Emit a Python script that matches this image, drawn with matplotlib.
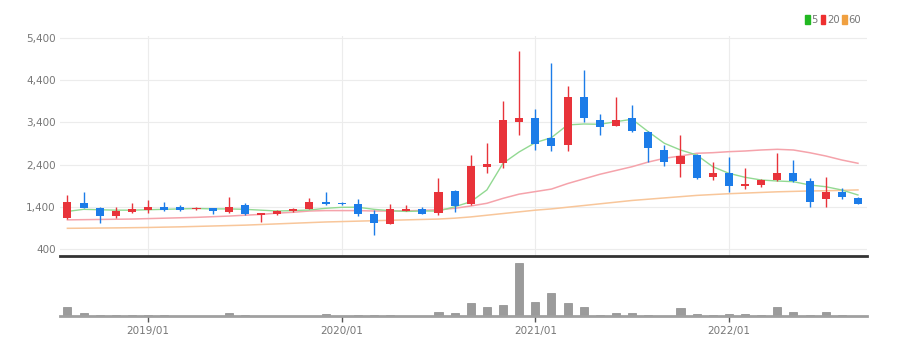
import matplotlib
matplotlib.use("Agg")
import matplotlib.pyplot as plt
from matplotlib import font_manager
from matplotlib.patches import Patch
import numpy as np
import pandas as pd

# monthly candles, 2018/08 .. 2022/09
months = pd.date_range("2018-08-01", periods=50, freq="MS")

opens = [1130, 1500, 1380, 1180, 1270, 1330, 1390, 1400, 1340, 1360,
         1270, 1440, 1200, 1220, 1290, 1350, 1520, 1500, 1460, 1230,
         1000, 1310, 1350, 1250, 1780, 1460, 2340, 2430, 3420, 3510,
         3020, 2860, 4010, 3460, 3320, 3500, 3180, 2750, 2410, 2630,
         2100, 2210, 1900, 1920, 2040, 2210, 2010, 1580, 1760, 1620]
closes = [1520, 1380, 1180, 1290, 1340, 1390, 1330, 1330, 1370, 1310,
          1400, 1230, 1250, 1300, 1350, 1520, 1470, 1460, 1230, 1010,
          1350, 1350, 1230, 1740, 1420, 2370, 2410, 3460, 3500, 2890,
          2840, 4010, 3500, 3300, 3460, 3200, 2790, 2450, 2600, 2080,
          2210, 1900, 1940, 2040, 2190, 2000, 1520, 1760, 1640, 1470]
highs = [1680, 1740, 1390, 1390, 1480, 1560, 1520, 1450, 1390, 1370,
         1630, 1480, 1260, 1330, 1380, 1600, 1740, 1520, 1580, 1320,
         1460, 1440, 1400, 2080, 1790, 2630, 2920, 3910, 5080, 3710,
         4800, 4260, 4640, 3590, 4000, 3810, 3200, 2860, 3100, 2650,
         2450, 2590, 2330, 2060, 2670, 2510, 2080, 2100, 1840, 1630]
lows = [1120, 1360, 1010, 1130, 1260, 1260, 1310, 1310, 1330, 1220,
        1260, 1200, 1030, 1200, 1280, 1340, 1440, 1450, 1190, 730,
        990, 1290, 1220, 1200, 1280, 1440, 2210, 2310, 3100, 2750,
        2720, 2720, 3420, 3100, 3310, 3180, 2450, 2370, 2110, 2060,
        2030, 1760, 1820, 1860, 2020, 1980, 1390, 1390, 1590, 1460]

ma5 = [1290, 1340, 1330, 1320, 1320, 1330, 1340, 1350, 1360, 1350,
       1350, 1340, 1320, 1300, 1310, 1324, 1364, 1388, 1390, 1340,
       1308, 1290, 1300, 1300, 1400, 1520, 1800, 2431, 2700, 2920,
       3038, 3340, 3362, 3355, 3417, 3474, 3180, 2905, 2746, 2628,
       2350, 2193, 2099, 2035, 2011, 1995, 1917, 1876, 1798, 1680]
ma20 = [1090, 1095, 1100, 1105, 1110, 1120, 1130, 1140, 1150, 1165,
        1180, 1200, 1220, 1250, 1270, 1300, 1310, 1310, 1310, 1300,
        1300, 1305, 1315, 1330, 1364, 1419, 1483, 1600, 1700, 1760,
        1820, 1950, 2060, 2170, 2260, 2350, 2460, 2549, 2604, 2668,
        2682, 2706, 2722, 2746, 2762, 2746, 2682, 2604, 2509, 2431]
ma60 = [890, 893, 897, 900, 905, 910, 918, 925, 935, 945,
        955, 965, 980, 995, 1010, 1025, 1040, 1050, 1060, 1070,
        1080, 1090, 1100, 1110, 1130, 1160, 1200, 1240, 1280, 1320,
        1350, 1390, 1430, 1470, 1510, 1550, 1580, 1610, 1640, 1670,
        1690, 1710, 1725, 1740, 1755, 1765, 1775, 1780, 1790, 1800]

volumes = [93, 30, 10, 10, 13, 13, 13, 0, 0, 0,
           27, 13, 0, 0, 0, 0, 23, 0, 13, 13,
           13, 0, 0, 43, 30, 127, 93, 107, 530, 143,
           227, 127, 87, 10, 27, 30, 10, 0, 77, 25,
           10, 25, 25, 10, 88, 45, 8, 45, 10, 0]

price_ticks = [400, 1400, 2400, 3400, 4400, 5400]

UP = "#e8333a"
DOWN = "#1c7ce8"
GRID = "#ececec"
LABEL = "#777777"

names = {f.name for f in font_manager.fontManager.ttflist}
font = "Liberation Sans Narrow" if "Liberation Sans Narrow" in names else "DejaVu Sans"
plt.rcParams["font.family"] = [font, "DejaVu Sans"]

x = np.arange(len(months))
o = np.array(opens)
c = np.array(closes)
up = c >= o
colors = np.where(up, UP, DOWN)

fig = plt.figure(figsize=(9.05, 3.55), dpi=100)
ax = fig.add_axes([60 / 905, 1 - 256 / 355, 807 / 905, 220 / 355])
axv = fig.add_axes([60 / 905, 1 - 316 / 355, 807 / 905, 56 / 355], sharex=ax)

# moving averages
ax.plot(x, ma60, color="#f8c69a", lw=1.1, zorder=2)
ax.plot(x, ma20, color="#f5a3ab", lw=1.1, zorder=2)
ax.plot(x, ma5, color="#92d992", lw=1.0, zorder=2)

# candles
ax.vlines(x, lows, highs, colors=colors, lw=1, zorder=3)
body = np.maximum(np.abs(c - o), 25)
ax.bar(x, body, bottom=np.minimum(o, c), width=0.5, color=colors, zorder=4)

ticks = [i for i, m in enumerate(months) if m.month == 1]
tick_labels = [months[i].strftime("%Y/%m") for i in ticks]

ax.set_ylim(234, 5447)
ax.set_xlim(-0.46, 49.56)
ax.set_yticks(price_ticks)
ax.set_yticklabels([f"{v:,}" for v in price_ticks])
ax.tick_params(axis="y", length=0, pad=3, labelsize=7.5, labelcolor=LABEL)
ax.tick_params(axis="x", length=0, labelbottom=False)
ax.set_xticks(ticks)
ax.grid(True, color=GRID, lw=0.8)
ax.set_axisbelow(True)
for s in ["top", "right", "left"]:
    ax.spines[s].set_visible(False)
ax.spines["bottom"].set_color("#333333")
ax.spines["bottom"].set_linewidth(2)

# volume
axv.bar(x, volumes, width=0.5, color="#9b9b9b", edgecolor="#8a8a8a", lw=0.5)
axv.set_ylim(0, 560)
axv.set_yticks([])
axv.set_xticks(ticks)
axv.set_xticklabels(tick_labels)
axv.tick_params(axis="x", length=4, width=1, color="#555555", pad=3,
                labelsize=7.5, labelcolor=LABEL)
for s in ["top", "right", "left"]:
    axv.spines[s].set_visible(False)
axv.spines["bottom"].set_color("#a0a0a0")
axv.spines["bottom"].set_linewidth(2)

handles = [Patch(color="#22b822", label="5"),
           Patch(color="#ee3030", label="20"),
           Patch(color="#f0a040", label="60")]
fig.legend(handles=handles, loc="upper right", bbox_to_anchor=(866 / 905, 1 - 10 / 355),
           ncol=3, frameon=False, fontsize=7.2, handlelength=0.45, handleheight=1.0,
           handletextpad=0.15, columnspacing=0.3, borderpad=0, labelcolor=LABEL)

fig.savefig("out.png", dpi=100, facecolor="white")
